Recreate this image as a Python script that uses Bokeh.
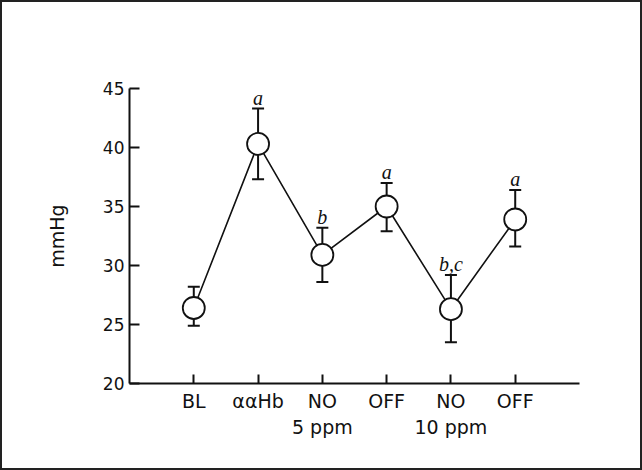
from bokeh.plotting import figure
from bokeh.models import Range1d, FixedTicker, Whisker, ColumnDataSource, TeeHead
from bokeh.core.properties import value
from bokeh.embed import file_html
from bokeh.resources import INLINE

categories = ["BL", "\u03b1\u03b1Hb", "NO\n5 ppm", "OFF", "NO\n10 ppm", "OFF"]
mean_mmHg = [26.4, 40.3, 30.9, 35.0, 26.3, 33.9]
upper_mmHg = [28.2, 43.3, 33.2, 37.0, 29.2, 36.4]
lower_mmHg = [24.9, 37.3, 28.6, 32.9, 23.5, 31.6]
sig_letters = ["", "a", "b", "a", "b,c", "a"]
y_ticks = [20, 25, 30, 35, 40, 45]

xpos = list(range(1, len(categories) + 1))
src = ColumnDataSource(dict(x=xpos, mean=mean_mmHg, upper=upper_mmHg,
                            lower=lower_mmHg, letter=sig_letters))

p = figure(width=642, height=470, output_backend="svg", toolbar_location=None,
           x_range=Range1d(0, len(categories) + 1), y_range=Range1d(y_ticks[0], y_ticks[-1]),
           min_border_left=127, min_border_right=65, min_border_top=86, min_border_bottom=89,
           styles={"border": "2px solid #222"})
p.outline_line_color = None
p.xgrid.visible = False
p.ygrid.visible = False
p.background_fill_color = "white"
p.border_fill_color = "white"

for ax in (p.xaxis[0], p.yaxis[0]):
    ax.axis_line_width = 2
    ax.axis_line_color = "#111111"
    ax.major_tick_line_width = 2
    ax.major_tick_line_color = "#111111"
    ax.major_tick_out = 0
    ax.minor_tick_line_color = None
    ax.major_label_text_color = "#111111"
    ax.major_label_text_font = "DejaVu Sans"

p.yaxis.ticker = FixedTicker(ticks=y_ticks)
p.yaxis.major_tick_in = 10
p.yaxis.major_label_text_font_size = "17px"
p.yaxis.major_label_standoff = 5
p.yaxis.axis_label = "mmHg"
p.yaxis.axis_label_text_font = "DejaVu Sans"
p.yaxis.axis_label_text_font_style = "normal"
p.yaxis.axis_label_text_font_size = "19px"
p.yaxis.axis_label_text_color = "#111111"
p.yaxis.axis_label_standoff = 32

p.xaxis.ticker = FixedTicker(ticks=xpos)
p.xaxis.major_label_overrides = {x: c for x, c in zip(xpos, categories)}
p.xaxis.major_tick_in = 9
p.xaxis.major_label_text_font_size = "19px"
p.xaxis.major_label_standoff = 6

wh = Whisker(source=src, base="x", upper="upper", lower="lower", level="underlay",
             line_color="#111111", line_width=2,
             upper_head=TeeHead(size=12, line_color="#111111", line_width=2),
             lower_head=TeeHead(size=12, line_color="#111111", line_width=2))
p.add_layout(wh)

p.line("x", "mean", source=src, line_color="#111111", line_width=1.6)
p.scatter("x", "mean", source=src, marker="circle", size=22, fill_color="white",
          line_color="#111111", line_width=1.8)
p.text("x", "upper", text="letter", source=src, text_align="center",
       text_baseline="alphabetic", y_offset=-11, text_font=value("Liberation Serif"),
       text_font_style="italic", text_font_size="20px", text_color="#111111")

open("out.html", "w").write(file_html(p, INLINE))
